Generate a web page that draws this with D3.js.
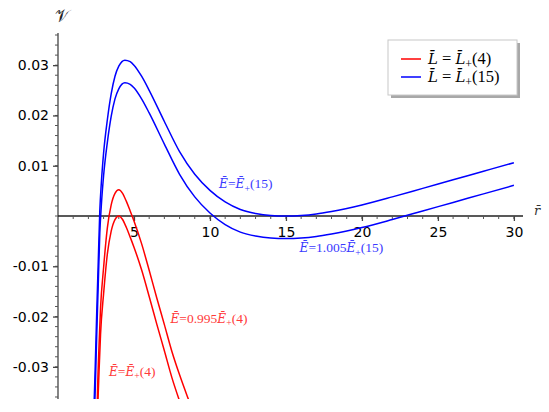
<!DOCTYPE html>
<html>
<head>
<meta charset="utf-8">
<script src="https://cdn.jsdelivr.net/npm/d3@7"></script>
<style>
  body { margin: 0; background: #fff; }
  svg { display: block; }
</style>
</head>
<body>
<svg id="chart"></svg>
<script>
// radius grid and values
var rBlue = [2.35, 2.45, 2.55, 2.65, 2.75, 2.85, 3.0, 3.25, 3.5, 3.75, 4.0, 4.4, 4.75, 5.0, 5.5, 6, 7, 8, 9, 10, 11, 12, 13, 14, 15, 16, 17, 18, 20, 22, 24, 26, 28, 30];
var vBlueUpper = [-0.040, -0.030, -0.019, -0.009, 0.001, 0.0065, 0.0125, 0.0192, 0.0243, 0.0278, 0.0298, 0.0310, 0.0307, 0.0300, 0.0278, 0.0250, 0.0188, 0.0128, 0.0083, 0.0051, 0.0028, 0.0013, 0.0005, 0.0001, 0.0, 0.0001, 0.0004, 0.0009, 0.0022, 0.0038, 0.0055, 0.0072, 0.0089, 0.0106];
var vBlueLower = [-0.0445, -0.0345, -0.0235, -0.0135, -0.0035, 0.002, 0.008, 0.0147, 0.0198, 0.0233, 0.0253, 0.0265, 0.0262, 0.0255, 0.0233, 0.0205, 0.0143, 0.0083, 0.0038, 0.0006, -0.0017, -0.0032, -0.0040, -0.0044, -0.0045, -0.0044, -0.0041, -0.0036, -0.0023, -0.0007, 0.0010, 0.0027, 0.0044, 0.0061];

var rRed = [2.5, 2.6, 2.7, 2.8, 3.0, 3.25, 3.5, 3.75, 4.0, 4.25, 4.5, 4.75, 5.0, 5.5, 6.0, 6.5, 7.0, 7.5, 8.0, 8.5, 9.0];
var vRedUpper = [-0.0498, -0.0348, -0.0258, -0.0183, -0.0103, -0.0023, 0.0022, 0.0045, 0.0052, 0.0045, 0.0029, 0.0010, -0.0010, -0.0055, -0.0108, -0.0163, -0.0216, -0.0270, -0.0316, -0.0358, -0.0398];
var vRedLower = [-0.055, -0.040, -0.031, -0.0235, -0.0155, -0.0075, -0.0030, -0.0007, 0.0, -0.0007, -0.0023, -0.0042, -0.0062, -0.0107, -0.0160, -0.0215, -0.0268, -0.0322, -0.0368, -0.0410, -0.0450];

var yTickValues = [-0.03, -0.02, -0.01, 0.01, 0.02, 0.03];
var xTickValues = [5, 10, 15, 20, 25, 30];
var legendLabels = ["4", "15"];

var width = 549, height = 412;

var svg = d3.select("#chart")
    .attr("width", width)
    .attr("height", height);

var x = d3.scaleLinear().domain([0, 30.6]).range([58, 523]);
var y = d3.scaleLinear().domain([-0.0364, 0.0364]).range([399, 33]);

// clip the curves to the plot box
svg.append("clipPath").attr("id", "plotclip")
  .append("rect")
    .attr("x", x(0)).attr("y", y(0.0364))
    .attr("width", x(30.6) - x(0))
    .attr("height", y(-0.0364) - y(0.0364));

// y axis with minor ticks
var yAxisG = svg.append("g")
    .attr("transform", "translate(" + x(0) + ",0)");
yAxisG.append("line")
    .attr("y1", y(0.0364)).attr("y2", y(-0.0364))
    .attr("stroke", "#444").attr("stroke-width", 1.3);
yAxisG.selectAll(".minor")
    .data(d3.range(-36, 37, 2).map(d => d / 1000))
    .enter().append("line")
    .attr("x1", -3).attr("x2", 0)
    .attr("y1", d => y(d)).attr("y2", d => y(d))
    .attr("stroke", "#555").attr("stroke-width", 1);
yAxisG.call(d3.axisLeft(y)
        .tickValues(yTickValues)
        .tickFormat(d3.format(".2f"))
        .tickSize(5)
        .tickPadding(4))
    .call(g => g.select(".domain").remove())
    .call(g => g.selectAll(".tick line").attr("stroke", "#444").attr("stroke-width", 1.3))
    .call(g => g.selectAll(".tick text")
        .attr("font-family", "DejaVu Sans")
        .attr("font-size", 14)
        .attr("fill", "#000")
        .text(d => d3.format(".2f")(d).replace("−", "-")));

// x axis with minor ticks
var xAxisG = svg.append("g")
    .attr("transform", "translate(0," + y(0) + ")");
xAxisG.append("line")
    .attr("x1", x(0)).attr("x2", x(30.6))
    .attr("stroke", "#222").attr("stroke-width", 1.3);
xAxisG.selectAll(".minor")
    .data(d3.range(1, 31))
    .enter().append("line")
    .attr("x1", d => x(d)).attr("x2", d => x(d))
    .attr("y1", 0).attr("y2", 3)
    .attr("stroke", "#555").attr("stroke-width", 1);
xAxisG.call(d3.axisBottom(x)
        .tickValues(xTickValues)
        .tickFormat(d3.format("d"))
        .tickSize(5)
        .tickPadding(6))
    .call(g => g.select(".domain").remove())
    .call(g => g.selectAll(".tick line").attr("stroke", "#444").attr("stroke-width", 1.3))
    .call(g => g.selectAll(".tick text")
        .attr("font-family", "DejaVu Sans")
        .attr("font-size", 14)
        .attr("fill", "#000"));

// axis names
svg.append("text")
    .attr("x", 62).attr("y", 22)
    .attr("text-anchor", "middle")
    .attr("font-family", "DejaVu Serif")
    .attr("font-size", 17)
    .attr("fill", "#222")
    .text("\uD835\uDCB1");
svg.append("text")
    .attr("x", 537).attr("y", 215)
    .attr("text-anchor", "middle")
    .attr("font-family", "DejaVu Serif")
    .attr("font-style", "italic")
    .attr("font-size", 13)
    .attr("fill", "#333")
    .text("r\u0304");

// curves
var line = d3.line()
    .x(d => x(d[0]))
    .y(d => y(d[1]))
    .curve(d3.curveMonotoneX);

var curves = [
  {r: rRed, v: vRedUpper, color: "#ff0000"},
  {r: rRed, v: vRedLower, color: "#ff0000"},
  {r: rBlue, v: vBlueUpper, color: "#0000ff"},
  {r: rBlue, v: vBlueLower, color: "#0000ff"}
];

svg.append("g")
    .attr("clip-path", "url(#plotclip)")
  .selectAll("path")
    .data(curves)
    .enter().append("path")
    .attr("d", d => line(d.r.map((r, i) => [r, d.v[i]])))
    .attr("fill", "none")
    .attr("stroke", d => d.color)
    .attr("stroke-width", 1.5);

// math label helper: sym-bar = k sym-bar_+(n), bar drawn as combining macron
function mathLabel(g, sym, mid, coef, arg, size) {
  var t = g.append("text")
      .attr("font-family", "Liberation Serif")
      .attr("font-size", size);
  t.append("tspan").attr("font-family", "DejaVu Serif").attr("font-style", "italic")
      .attr("font-size", size * 0.9).text(sym + "\u0304");
  t.append("tspan").text(mid);
  if (coef) t.append("tspan").text(coef);
  t.append("tspan").attr("font-family", "DejaVu Serif").attr("font-style", "italic")
      .attr("font-size", size * 0.9).text(sym + "\u0304");
  t.append("tspan").attr("dy", size * 0.25).attr("font-size", size * 0.72).text("+");
  t.append("tspan").attr("dy", -size * 0.25).text("(" + arg + ")");
  return t;
}

// curve annotations
var notes = [
  {r: 10.6, v: 0.0055, coef: "", arg: "15", color: "#3a3aff"},
  {r: 15.9, v: -0.0072, coef: "1.005", arg: "15", color: "#3a3aff"},
  {r: 7.4, v: -0.0212, coef: "0.995", arg: "4", color: "#ff3a3a"},
  {r: 3.35, v: -0.0318, coef: "", arg: "4", color: "#ff3a3a"}
];
notes.forEach(function(n) {
  mathLabel(svg, "E", "=", n.coef, n.arg, 13.5)
      .attr("x", x(n.r)).attr("y", y(n.v))
      .attr("fill", n.color);
});

// legend
var legend = svg.append("g").attr("transform", "translate(388,40)");
legend.append("rect")
    .attr("x", 3).attr("y", 3).attr("width", 129).attr("height", 55)
    .attr("fill", "#a8a8a8");
legend.append("rect")
    .attr("x", 0).attr("y", 0).attr("width", 129).attr("height", 55)
    .attr("fill", "#fff").attr("stroke", "#c8c8c8").attr("stroke-width", 1);
legendLabels.forEach(function(lab, i) {
  var yy = 19 + i * 18;
  legend.append("line")
      .attr("x1", 13).attr("x2", 33)
      .attr("y1", yy).attr("y2", yy)
      .attr("stroke", i === 0 ? "#ff0000" : "#0000ff")
      .attr("stroke-width", 1.5);
  mathLabel(legend, "L", " = ", "", lab, 16.5)
      .attr("x", 40).attr("y", yy + 5)
      .attr("fill", "#000");
});
</script>
</body>
</html>
